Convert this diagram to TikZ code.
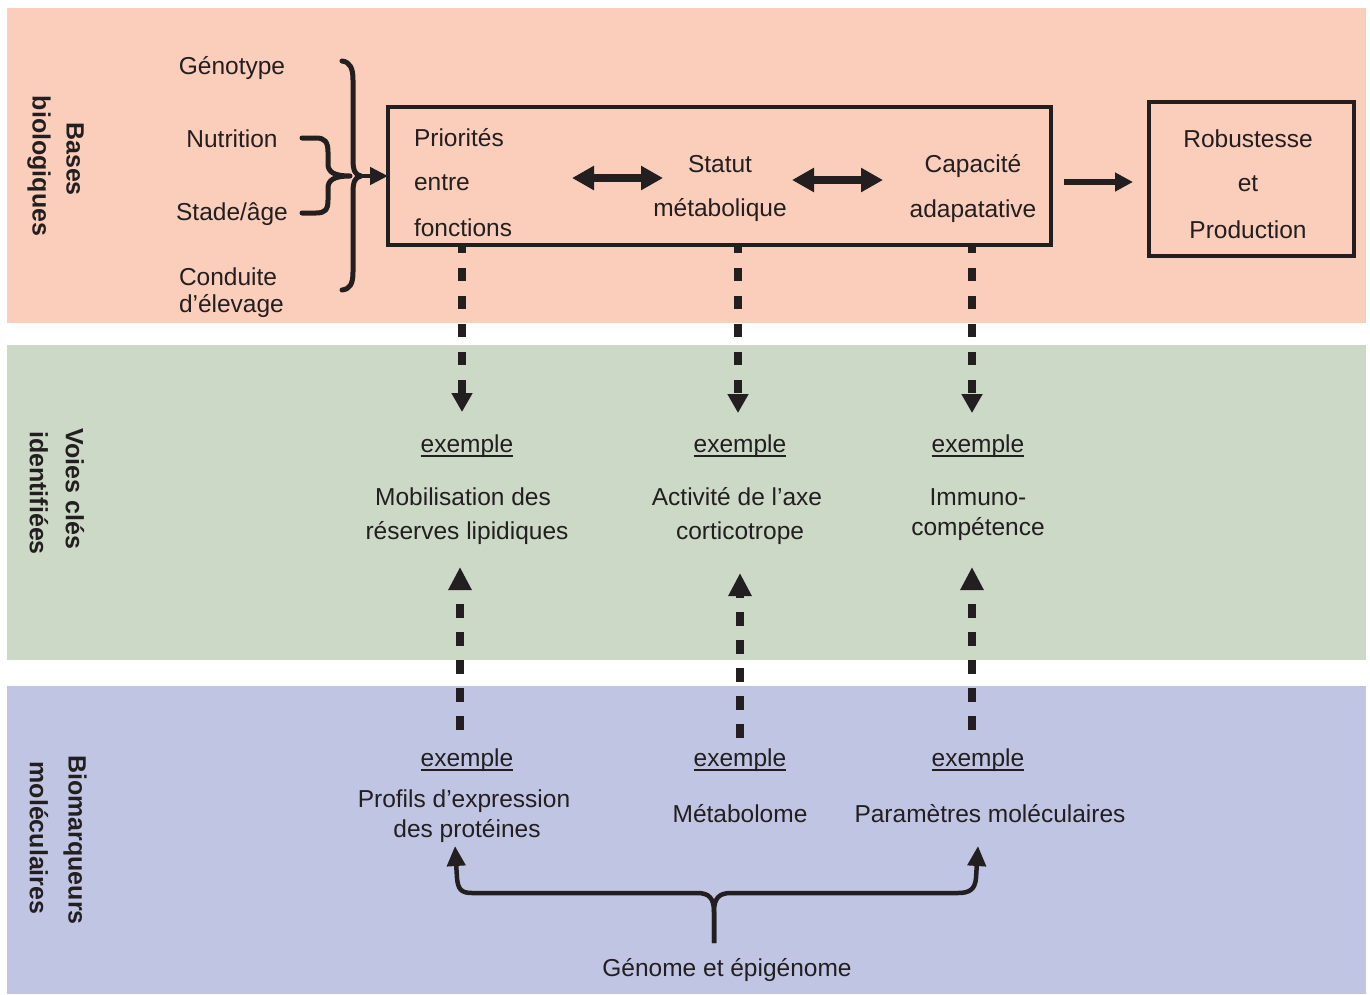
\documentclass[tikz,border=0pt]{standalone}
\usepackage{fontspec}
\setmainfont{Liberation Sans}
\usetikzlibrary{arrows.meta}
\definecolor{pinkbg}{RGB}{251,205,187}
\definecolor{greenbg}{RGB}{204,217,199}
\definecolor{bluebg}{RGB}{192,197,228}
\definecolor{ink}{RGB}{35,31,32}
\newcommand\myul[1]{\setbox0=\hbox{#1}\rlap{\rule[-4.5pt]{\wd0}{1.4pt}}\box0}
\begin{document}
\begin{tikzpicture}[x=1pt,y=-1pt,
  txt/.style={inner sep=0pt, outer sep=0pt, text=ink, font=\fontsize{24.5}{29}\selectfont, anchor=base},
  bandlbl/.style={inner sep=0pt, text=ink, font=\bfseries\fontsize{25}{29}\selectfont, rotate=-90},
  boxframe/.style={draw=ink, line width=3.2pt, inner sep=0pt, outer sep=0pt},
  dashdown/.style={draw=ink, line width=8pt, dash pattern=on 13pt off 15pt, dash phase=5pt, -{Triangle[length=19pt,width=20pt]}},
  dashup/.style={draw=ink, line width=7.5pt, dash pattern=on 14pt off 14pt, -{Triangle[length=23pt,width=22pt]}},
  dblarrow/.style={draw=ink, line width=8pt, {Triangle[length=22pt,width=23pt]}-{Triangle[length=22pt,width=23pt]}},
  fwdarrow/.style={draw=ink, line width=6pt, -{Triangle[length=18pt,width=18pt]}},
  bracestroke/.style={draw=ink, line width=5pt, line cap=round, line join=round},
  bracearrow/.style={draw=ink, line width=4.5pt, line join=round, -{Triangle[length=20pt,width=18pt]}}
]
\useasboundingbox (0,0) rectangle (1370,994);
% bands
\fill[pinkbg] (7,8) rectangle (1366,323);
\fill[greenbg] (7,345) rectangle (1366,660);
\fill[bluebg] (7,686) rectangle (1366,994);
% band labels
\node[bandlbl] (lb1a) at (75,159) {Bases};
\node[bandlbl] (lb1b) at (39,166) {biologiques};
\node[bandlbl] (lb2a) at (75,489) {Voies clés};
\node[bandlbl] (lb2b) at (39,493) {identifiées};
\node[bandlbl] (lb3a) at (75,840) {Biomarqueurs};
\node[bandlbl] (lb3b) at (39,838) {moléculaires};
% left factors
\node[txt] (geno) at (232,74) {Génotype};
\node[txt] (nutr) at (232,147) {Nutrition};
\node[txt] (stad) at (232,220) {Stade/âge};
\node[txt, anchor=base west] (cond1) at (179,285) {Conduite};
\node[txt, anchor=base west] (cond2) at (179,312) {d’élevage};
% braces
\draw[bracestroke] (342,61) .. controls (350,62) and (353,68) .. (353,80) -- (353,160)
  .. controls (353,170) and (355,175) .. (361,176)
  .. controls (355,177) and (353,182) .. (353,192) -- (353,272)
  .. controls (353,284) and (350,289) .. (342,290);
\draw[bracestroke] (302,138) -- (316,138) .. controls (325,138) and (328,142) .. (328,152) -- (328,164)
  .. controls (328,172) and (334,176) .. (350,176)
  .. controls (334,176) and (328,180) .. (328,188) -- (328,200)
  .. controls (328,210) and (325,213) .. (316,213) -- (302,213);
\coordinate (btip) at (358,176);
% main box
\node[boxframe, minimum width=663pt, minimum height=138pt] (main) at (719.5,176) {};
\draw[draw=ink, line width=4.5pt, -{Triangle[length=18pt,width=17pt]}] (btip) -- (main.west);
\node[txt, anchor=base west] (pri1) at (414,146) {Priorités};
\node[txt, anchor=base west] (pri2) at (414,190) {entre};
\node[txt, anchor=base west] (pri3) at (414,236) {fonctions};
\node[txt] (sta1) at (720,172) {Statut};
\node[txt] (sta2) at (720,216) {métabolique};
\node[txt] (cap1) at (973,172) {Capacité};
\node[txt] (cap2) at (973,217) {adapatative};
\coordinate (da1l) at (572,178);
\coordinate (da1r) at (663,178);
\coordinate (da2l) at (792,180);
\coordinate (da2r) at (883,180);
\draw[dblarrow] (da1l) -- (da1r);
\draw[dblarrow] (da2l) -- (da2r);
% robustesse box
\node[boxframe, minimum width=205pt, minimum height=154pt] (rob) at (1251.5,179) {};
\node[txt] (rob1) at (1248,147) {Robustesse};
\node[txt] (rob2) at (1248,191) {et};
\node[txt] (rob3) at (1248,238) {Production};
\coordinate (ra) at (0,182);
\draw[fwdarrow, shorten <=13pt, shorten >=16pt] (main.east |- ra) -- (rob.west |- ra);
% green band texts
\node[txt] (exv1) at (467,452) {\myul{exemple}};
\node[txt] (exv2) at (740,452) {\myul{exemple}};
\node[txt] (exv3) at (978,452) {\myul{exemple}};
\node[txt] (mob1) at (463,505) {Mobilisation des};
\node[txt] (mob2) at (467,539) {réserves lipidiques};
\node[txt] (act1) at (737,505) {Activité de l’axe};
\node[txt] (act2) at (740,539) {corticotrope};
\node[txt] (imm1) at (978,505) {Immuno-};
\node[txt] (imm2) at (978,535) {compétence};
% down dashed arrows
\coordinate (t1) at (462,412);
\coordinate (t2) at (738,413);
\coordinate (t3) at (972,413);
\draw[dashdown] (main.south -| t1) -- (t1);
\draw[dashdown] (main.south -| t2) -- (t2);
\draw[dashdown] (main.south -| t3) -- (t3);
% blue band texts
\node[txt] (exb1) at (467,766) {\myul{exemple}};
\node[txt] (exb2) at (740,766) {\myul{exemple}};
\node[txt] (exb3) at (978,766) {\myul{exemple}};
\node[txt] (pro1) at (464,807) {Profils d’expression};
\node[txt] (pro2) at (467,837) {des protéines};
\node[txt] (meta) at (740,822) {Métabolome};
\node[txt] (para) at (990,822) {Paramètres moléculaires};
\node[txt] (gen) at (727,976) {Génome et épigénome};
% up dashed arrows
\coordinate (u1s) at (460,730);
\coordinate (u1t) at (460,567);
\coordinate (u2s) at (740,738);
\coordinate (u2t) at (740,573);
\coordinate (u3s) at (972,730);
\coordinate (u3t) at (972,567);
\draw[dashup] (u1s) -- (u1t);
\draw[dashup] (u2s) -- (u2t);
\draw[dashup] (u3s) -- (u3t);
% bottom brace
\coordinate (gtip) at (714,943);
\coordinate (lt) at (455,846);
\coordinate (rt) at (978,846);
\draw[bracearrow] (gtip) -- (714,912) .. controls (714,898) and (709,893) .. (697,893) -- (472,893)
  .. controls (461,893) and (458,889) .. (457,878) -- (lt);
\draw[bracearrow] (gtip) -- (714,912) .. controls (714,898) and (719,893) .. (731,893) -- (958,893)
  .. controls (970,893) and (975,889) .. (976,878) -- (rt);
\end{tikzpicture}
\end{document}
